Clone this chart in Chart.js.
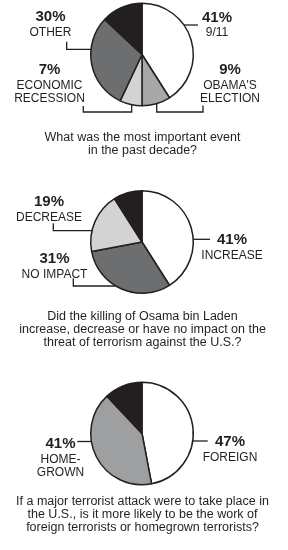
<!DOCTYPE html>
<html>
<head>
<meta charset="utf-8">
<script src="https://cdn.jsdelivr.net/npm/chart.js@4"></script>
<style>
  html, body { margin: 0; padding: 0; background: #fff; }
  #page { position: relative; width: 288px; height: 550px; overflow: hidden; }
  #page canvas { position: absolute; left: 0; }
</style>
</head>
<body>
<div id="page">
  <canvas id="eventChart" width="288" height="160" style="top:0px"></canvas>
  <canvas id="ladenChart" width="288" height="190" style="top:160px"></canvas>
  <canvas id="attackChart" width="288" height="200" style="top:350px"></canvas>
</div>
<script>
// Poll results, three questions
var eventLabels = ['9/11', "Obama's election", 'Economic recession', 'Other', 'No answer'];
var eventValues = [41, 9, 7, 30, 13];
var eventTags = [['9/11'], ["OBAMA'S", 'ELECTION'], ['ECONOMIC', 'RECESSION'], ['OTHER'], []];
var eventQuestion = ['What was the most important event', 'in the past decade?'];

var ladenLabels = ['Increase', 'No impact', 'Decrease', 'No answer'];
var ladenValues = [41, 31, 19, 9];
var ladenTags = [['INCREASE'], ['NO IMPACT'], ['DECREASE'], []];
var ladenQuestion = ['Did the killing of Osama bin Laden',
  'increase, decrease or have no impact on the',
  'threat of terrorism against the U.S.?'];

var attackLabels = ['Foreign', 'Homegrown', 'No answer'];
var attackValues = [47, 41, 12];
var attackTags = [['FOREIGN'], ['HOME-', 'GROWN'], []];
var attackQuestion = ['If a major terrorist attack were to take place in',
  'the U.S., is it more likely to be the work of',
  'foreign terrorists or homegrown terrorists?'];

var ink = '#231f20';
var fontFamily = '"Liberation Sans", Arial, Helvetica, sans-serif';

// draws the percent labels, leader lines and the question under each pie
function makeCallouts(tags, question, items, qy) {
  return {
    id: 'callouts',
    afterDraw: function(chart) {
      var ctx = chart.ctx;
      var values = chart.data.datasets[0].data;
      var arc = chart.getDatasetMeta(0).data[0];
      var cx = arc.x, cy = arc.y, r = arc.outerRadius;
      ctx.save();
      ctx.strokeStyle = ink;
      ctx.fillStyle = ink;
      ctx.lineWidth = 1.3;
      ctx.textAlign = 'center';
      ctx.textBaseline = 'alphabetic';

      items.forEach(function(item) {
        var pts = item.path.map(function(p) { return [p[0], p[1]]; });
        // snap the last point of the leader onto the rim
        var a = pts[pts.length - 2], b = pts[pts.length - 1];
        var dx = b[0] - a[0], dy = b[1] - a[1];
        var dd = dx * dx + dy * dy, ad = a[0] * dx + a[1] * dy, aa = a[0] * a[0] + a[1] * a[1];
        var disc = ad * ad - dd * (aa - r * r);
        if (disc >= 0) {
          var t = (-ad - Math.sqrt(disc)) / dd;
          pts[pts.length - 1] = [a[0] + t * dx, a[1] + t * dy];
        }
        ctx.beginPath();
        pts.forEach(function(p, k) {
          if (k === 0) ctx.moveTo(cx + p[0], cy + p[1]);
          else ctx.lineTo(cx + p[0], cy + p[1]);
        });
        ctx.stroke();

        ctx.font = 'bold 15px ' + fontFamily;
        ctx.fillText(values[item.i] + '%', cx + item.x, cy + item.y);
        ctx.font = '12px ' + fontFamily;
        tags[item.i].forEach(function(line, k) {
          ctx.fillText(line, cx + item.x, cy + item.y + 14.5 + k * 13.8);
        });
      });

      ctx.font = '12.5px ' + fontFamily;
      question.forEach(function(line, k) {
        ctx.fillText(line, 142.5, qy + k * 13);
      });
      ctx.restore();
    }
  };
}

function drawPie(id, labels, values, colors, centerY, tags, question, items, qy) {
  var canvas = document.getElementById(id);
  var h = canvas.height;
  new Chart(canvas.getContext('2d'), {
    type: 'pie',
    data: {
      labels: labels,
      datasets: [{
        data: values,
        backgroundColor: colors,
        borderColor: ink,
        borderWidth: 1.5,
        clip: false
      }]
    },
    options: {
      responsive: false,
      animation: false,
      devicePixelRatio: 1,
      layout: {
        padding: { left: 90, right: 94, top: centerY - 52, bottom: h - centerY - 52 }
      },
      plugins: {
        legend: { display: false },
        tooltip: { enabled: false }
      }
    },
    plugins: [makeCallouts(tags, question, items, qy)]
  });
}

drawPie('eventChart', eventLabels, eventValues,
  ['#ffffff', '#a7a8aa', '#d3d3d4', '#6d6e70', '#231f20'],
  54.5, eventTags, eventQuestion, [
    { i: 0, x: 75, y: -32.8, path: [[56, -29.5], [38, -29.5]] },
    { i: 1, x: 88, y: 19.5, path: [[61, 51], [61, 57.5], [14.7, 57.5], [14.7, 45]] },
    { i: 2, x: -92.5, y: 19.5, path: [[-58.7, 51.5], [-58.7, 57.5], [-10.3, 57.5], [-10.3, 45]] },
    { i: 3, x: -91.5, y: -33.5, path: [[-75.3, -12.8], [-75.3, -5.2], [-45, -5.2]] }
  ], 141);

drawPie('ladenChart', ladenLabels, ladenValues,
  ['#ffffff', '#6d6e70', '#d3d3d4', '#231f20'],
  82, ladenTags, ladenQuestion, [
    { i: 0, x: 90, y: 2, path: [[68, -2.7], [45, -2.7]] },
    { i: 1, x: -87.5, y: 21.3, path: [[-68.7, 36.3], [-68.7, 44], [-20, 44]] },
    { i: 2, x: -93, y: -36, path: [[-88.7, -18.7], [-88.7, -11.3], [-45, -11.3]] }
  ], 159.5);

drawPie('attackChart', attackLabels, attackValues,
  ['#ffffff', '#9e9fa1', '#231f20'],
  83.5, attackTags, attackQuestion, [
    { i: 0, x: 88, y: 12.5, path: [[65.7, 7.5], [45, 7.5]] },
    { i: 1, x: -81.5, y: 14.5, path: [[-64.7, 8], [-45, 8]] }
  ], 155);
</script>
</body>
</html>
